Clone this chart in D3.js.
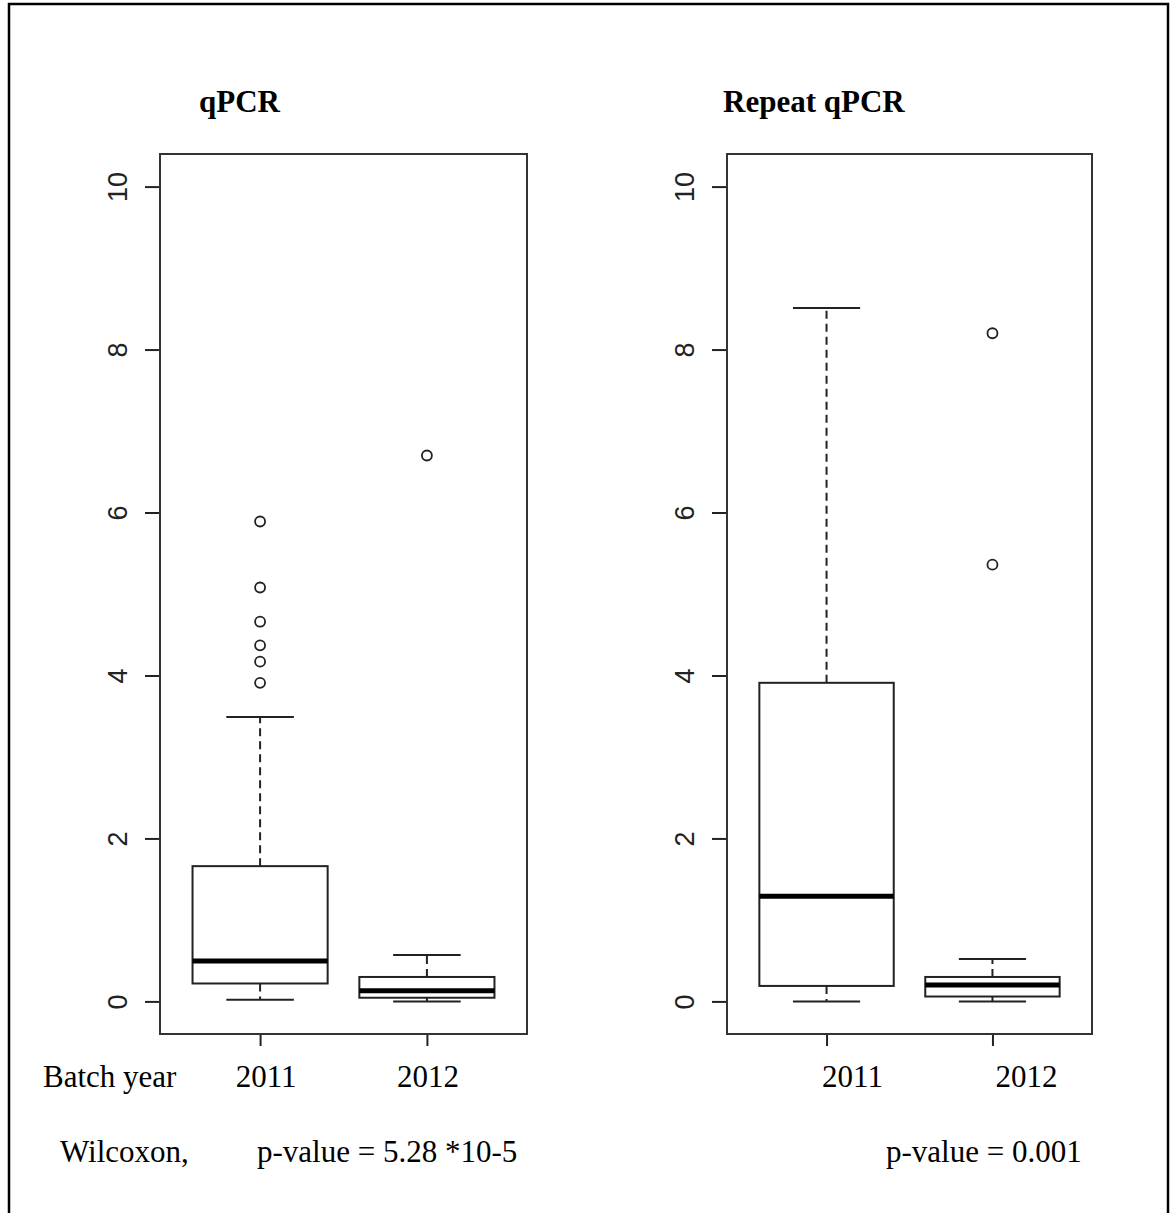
<!DOCTYPE html>
<html>
<head>
<meta charset="utf-8">
<script src="https://cdn.jsdelivr.net/npm/d3@7"></script>
<style>
  body { margin: 0; background: #fff; }
  svg { display: block; }
</style>
</head>
<body>
<svg id="chart" width="1170" height="1213"></svg>
<script>
    // data
    var years = ["2011", "2012"];
    var panelTitles = ["qPCR", "Repeat qPCR"];
    // [lower whisker, Q1, median, Q3, upper whisker]
    var qpcrStats = [[0.02, 0.22, 0.495, 1.66, 3.49], [0.0, 0.045, 0.13, 0.30, 0.57]];
    var qpcrOutliers = [[5.89, 5.08, 4.66, 4.37, 4.17, 3.91], [6.70]];
    var repeatStats = [[0.0, 0.19, 1.29, 3.91, 8.51], [0.0, 0.06, 0.20, 0.30, 0.52]];
    var repeatOutliers = [[], [8.20, 5.36]];
    var yTicks = [0, 2, 4, 6, 8, 10];
    var pvalues = ["p-value = 5.28 *10-5", "p-value = 0.001"];

    var ink = "#222";
    var serif = "'Liberation Serif', 'Times New Roman', serif";
    var sans = "'Liberation Sans', Arial, sans-serif";

    var svg = d3.select("#chart");

    // outer frame of the figure
    svg.append("rect")
        .attr("x", 9).attr("y", 4)
        .attr("width", 1159).attr("height", 1240)
        .attr("fill", "none")
        .attr("stroke", "#000")
        .attr("stroke-width", 2.5);

    var panels = [
        {title: panelTitles[0], stats: qpcrStats, outliers: qpcrOutliers, left: 160, right: 527, titleX: 199, labelDx: [6, 1], pX: 257},
        {title: panelTitles[1], stats: repeatStats, outliers: repeatOutliers, left: 727, right: 1092, titleX: 723, labelDx: [26, 34], pX: 886}
    ];
    var plotTop = 154, plotBottom = 1034;

    var yScale = d3.scaleLinear()
        .domain([-0.4, 10.4])
        .range([plotBottom, plotTop]);

    panels.forEach(function(p, k) {
        var xScale = d3.scaleLinear()
            .domain([0.4, 2.6])
            .range([p.left, p.right]);
        var boxW = 0.81 * (xScale(2) - xScale(1));
        var g = svg.append("g");

        // title
        g.append("text")
            .attr("x", p.titleX).attr("y", 112)
            .attr("font-family", serif)
            .attr("font-weight", "bold")
            .attr("font-size", 31)
            .text(p.title);

        // y axis
        var yAxis = d3.axisLeft(yScale)
            .tickValues(yTicks)
            .tickSize(15)
            .tickSizeOuter(0)
            .tickFormat(d3.format("d"));
        var ya = g.append("g")
            .attr("transform", "translate(" + [p.left, 0] + ")")
            .call(yAxis);
        ya.select(".domain").remove();
        ya.selectAll(".tick line").attr("stroke", ink).attr("stroke-width", 2);
        ya.selectAll(".tick text")
            .attr("transform", "rotate(-90)")
            .attr("x", 0).attr("y", -33).attr("dy", null)
            .attr("text-anchor", "middle")
            .attr("fill", ink)
            .attr("font-family", sans)
            .attr("font-size", 27);

        // x axis ticks
        var xAxis = d3.axisBottom(xScale)
            .tickValues([1, 2])
            .tickSize(12)
            .tickSizeOuter(0)
            .tickFormat("");
        var xa = g.append("g")
            .attr("transform", "translate(" + [0, plotBottom] + ")")
            .call(xAxis);
        xa.select(".domain").remove();
        xa.selectAll(".tick line").attr("stroke", ink).attr("stroke-width", 2);

        // year labels
        g.selectAll(".year")
            .data(years)
            .enter().append("text")
            .attr("x", function(d, i) { return xScale(i + 1) + p.labelDx[i]; })
            .attr("y", 1087)
            .attr("text-anchor", "middle")
            .attr("font-family", serif)
            .attr("font-size", 31)
            .text(function(d) { return d; });

        // boxes
        var box = g.selectAll(".box")
            .data(p.stats)
            .enter().append("g");

        box.append("line")
            .attr("x1", function(d, i) { return xScale(i + 1); })
            .attr("x2", function(d, i) { return xScale(i + 1); })
            .attr("y1", function(d) { return yScale(d[3]); })
            .attr("y2", function(d) { return yScale(d[4]); })
            .attr("stroke", ink).attr("stroke-width", 2)
            .attr("stroke-dasharray", "8,5");
        box.append("line")
            .attr("x1", function(d, i) { return xScale(i + 1); })
            .attr("x2", function(d, i) { return xScale(i + 1); })
            .attr("y1", function(d) { return yScale(d[1]); })
            .attr("y2", function(d) { return yScale(d[0]); })
            .attr("stroke", ink).attr("stroke-width", 2)
            .attr("stroke-dasharray", "8,5");
        [0, 4].forEach(function(j) {
            box.append("line")
                .attr("x1", function(d, i) { return xScale(i + 1) - boxW / 4; })
                .attr("x2", function(d, i) { return xScale(i + 1) + boxW / 4; })
                .attr("y1", function(d) { return yScale(d[j]); })
                .attr("y2", function(d) { return yScale(d[j]); })
                .attr("stroke", ink).attr("stroke-width", 2);
        });
        box.append("rect")
            .attr("x", function(d, i) { return xScale(i + 1) - boxW / 2; })
            .attr("y", function(d) { return yScale(d[3]); })
            .attr("width", boxW)
            .attr("height", function(d) { return yScale(d[1]) - yScale(d[3]); })
            .attr("fill", "#fff")
            .attr("stroke", ink).attr("stroke-width", 2);
        box.append("line")
            .attr("x1", function(d, i) { return xScale(i + 1) - boxW / 2; })
            .attr("x2", function(d, i) { return xScale(i + 1) + boxW / 2; })
            .attr("y1", function(d) { return yScale(d[2]); })
            .attr("y2", function(d) { return yScale(d[2]); })
            .attr("stroke", "#000").attr("stroke-width", 5);

        // outliers
        p.outliers.forEach(function(vals, i) {
            g.selectAll(".out" + i)
                .data(vals)
                .enter().append("circle")
                .attr("cx", xScale(i + 1))
                .attr("cy", function(d) { return yScale(d); })
                .attr("r", 5)
                .attr("fill", "none")
                .attr("stroke", ink).attr("stroke-width", 1.8);
        });

        // plot frame
        g.append("rect")
            .attr("x", p.left).attr("y", plotTop)
            .attr("width", p.right - p.left)
            .attr("height", plotBottom - plotTop)
            .attr("fill", "none")
            .attr("stroke", "#333").attr("stroke-width", 2);

        // p-value
        g.append("text")
            .attr("x", p.pX).attr("y", 1162)
            .attr("font-family", serif)
            .attr("font-size", 31)
            .text(pvalues[k]);
    });

    // left-side labels
    svg.append("text")
        .attr("x", 43).attr("y", 1087)
        .attr("font-family", serif)
        .attr("font-size", 31)
        .text("Batch year");
    svg.append("text")
        .attr("x", 60).attr("y", 1162)
        .attr("font-family", serif)
        .attr("font-size", 31)
        .text("Wilcoxon,");
</script>
</body>
</html>
